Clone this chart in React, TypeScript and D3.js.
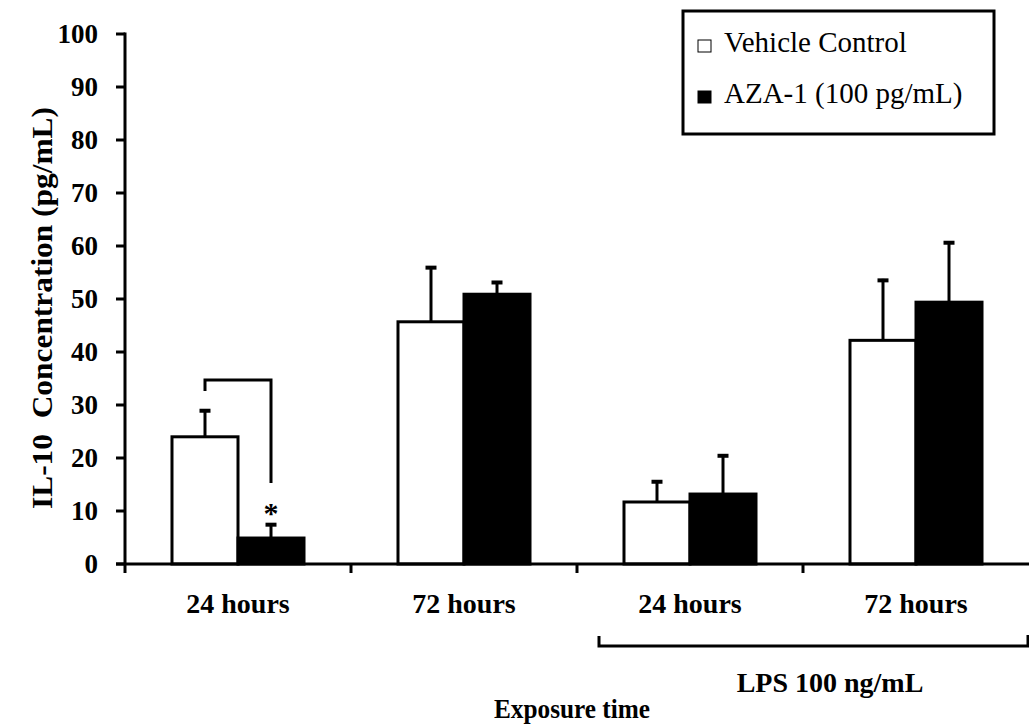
import React from "react";
import * as d3 from "d3";

const categories = ["24 hours", "72 hours", "24 hours LPS", "72 hours LPS"];
const categoryLabels = ["24 hours", "72 hours", "24 hours", "72 hours"];
const seriesNames = ["Vehicle Control", "AZA-1 (100 pg/mL)"];
const vehicleValues = [24.0, 45.7, 11.7, 42.2];
const vehicleErrors = [5.2, 10.5, 4.1, 11.6];
const azaValues = [4.9, 50.9, 13.2, 49.4];
const azaErrors = [2.8, 2.5, 7.5, 11.5];
const yTicks = [0, 10, 20, 30, 40, 50, 60, 70, 80, 90, 100];

const W = 1029;
const H = 727;
const FONT = "'Liberation Serif', 'Times New Roman', serif";

export default function App() {
  const x0 = d3.scaleBand<string>().domain(categories).range([125, 1029]).paddingInner(0).paddingOuter(0);
  const x1 = d3.scaleBand<string>().domain(seriesNames).range([0, x0.bandwidth()]).paddingInner(0).paddingOuter(0.712);
  const y = d3.scaleLinear().domain([0, 100]).range([564, 34]);

  const series = [
    { name: seriesNames[0], values: vehicleValues, errors: vehicleErrors, fill: "#fff" },
    { name: seriesNames[1], values: azaValues, errors: azaErrors, fill: "#000" },
  ];

  const boundaries = categories.slice(1).map((c) => x0(c)!);

  const c0 = categories[0];
  const bxL = x0(c0)! + x1(seriesNames[0])! + x1.bandwidth() / 2;
  const bxR = x0(c0)! + x1(seriesNames[1])! + x1.bandwidth() / 2;
  const lpsLeft = 599;
  const lpsRight = 1028;

  return (
    <svg width={W} height={H} style={{ position: "absolute", left: 0, top: 0, background: "#fff" }} fontFamily={FONT}>
      <rect x={0} y={0} width={W} height={H} fill="#fff" />
      {series.map((s) =>
        categories.map((c, i) => {
          const bx = x0(c)! + x1(s.name)!;
          const bw = x1.bandwidth();
          const top = y(s.values[i]);
          const cx = bx + bw / 2;
          const et = y(s.values[i] + s.errors[i]);
          return (
            <g key={s.name + c}>
              <line x1={cx} x2={cx} y1={top} y2={et} stroke="#000" strokeWidth={3} />
              <line x1={cx - 5.5} x2={cx + 5.5} y1={et + 1.5} y2={et + 1.5} stroke="#000" strokeWidth={4} />
              <rect x={bx} y={top} width={bw} height={y(0) - top} fill={s.fill} stroke="#000" strokeWidth={3} />
            </g>
          );
        })
      )}
      <line x1={125} x2={125} y1={y(100) - 1.5} y2={y(0)} stroke="#000" strokeWidth={3} />
      <line x1={116} x2={1029} y1={y(0)} y2={y(0)} stroke="#000" strokeWidth={3} />
      {yTicks.map((t) => (
        <g key={t}>
          <line x1={116} x2={125} y1={y(t)} y2={y(t)} stroke="#000" strokeWidth={3} />
          <text x={98} y={y(t) + 9} textAnchor="end" fontSize={27} fontWeight="bold">{t}</text>
        </g>
      ))}
      {boundaries.map((b, i) => (
        <line key={i} x1={b} x2={b} y1={y(0)} y2={y(0) + 9} stroke="#000" strokeWidth={3} />
      ))}
      <line x1={125} x2={125} y1={y(0)} y2={y(0) + 9} stroke="#000" strokeWidth={3} />
      {categories.map((c, i) => (
        <text key={c} x={x0(c)! + x0.bandwidth() / 2} y={613} textAnchor="middle" fontSize={28} fontWeight="bold">
          {categoryLabels[i]}
        </text>
      ))}
      <path d={`M${bxL},391 V${y(34.7)} H${bxR} V${y(15.3)}`} fill="none" stroke="#000" strokeWidth={3} />
      <text x={bxR} y={523} textAnchor="middle" fontSize={30} fontWeight="bold">*</text>
      <path d={`M${lpsLeft},636 V646 H${lpsRight} V635`} fill="none" stroke="#000" strokeWidth={3} />
      <text x={830} y={692} textAnchor="middle" fontSize={28} fontWeight="bold">LPS 100 ng/mL</text>
      <text x={572} y={718} textAnchor="middle" fontSize={28} fontWeight="bold" textLength={156} lengthAdjust="spacingAndGlyphs">Exposure time</text>
      <text transform={`translate(52,308) rotate(-90)`} textAnchor="middle" fontSize={29} fontWeight="bold" style={{ whiteSpace: "pre" }} textLength={402} lengthAdjust="spacingAndGlyphs">
        IL-10  Concentration (pg/mL)
      </text>
      <rect x={683} y={11} width={311} height={123} fill="#fff" stroke="#000" strokeWidth={3} />
      <rect x={698} y={40} width={13} height={12} fill="#fff" stroke="#000" strokeWidth={1} />
      <text x={724} y={52} fontSize={29}>{seriesNames[0]}</text>
      <rect x={698} y={91} width={13} height={12} fill="#000" stroke="#000" strokeWidth={1} />
      <text x={724} y={103} fontSize={29}>{seriesNames[1]}</text>
    </svg>
  );
}
